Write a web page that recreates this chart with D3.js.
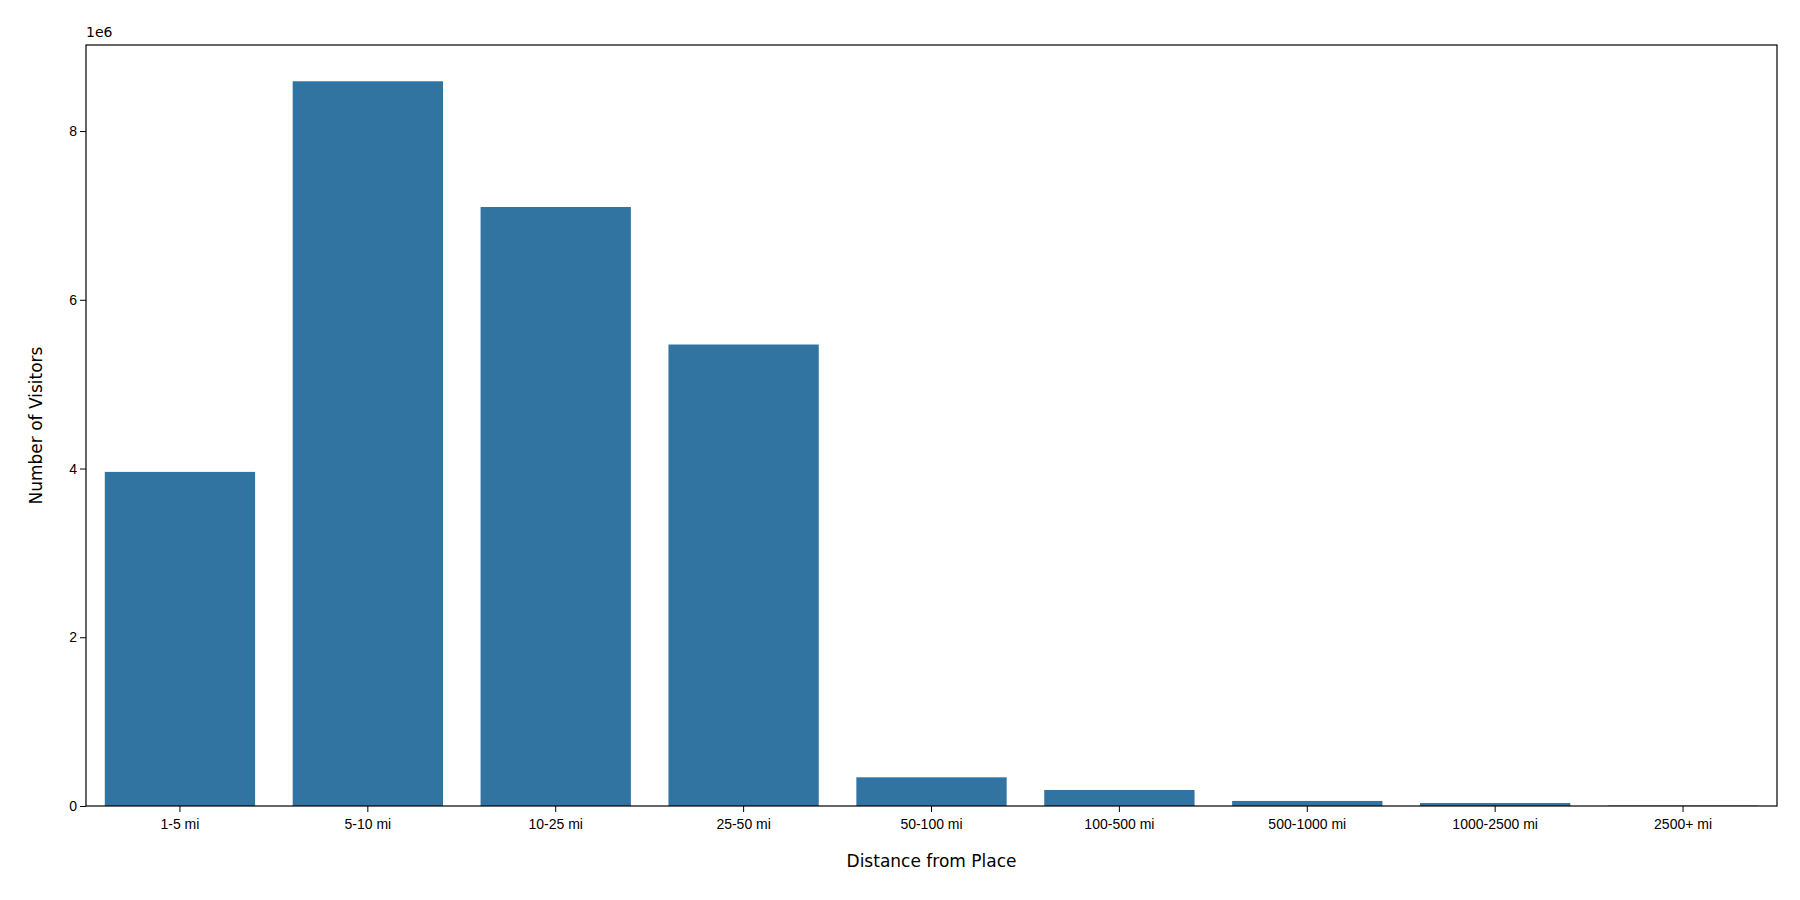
<!DOCTYPE html>
<meta charset="utf-8">
<style>
    body { margin: 0; background: white; }
    svg { font-family: "DejaVu Sans", sans-serif; }
    .axis path, .axis line { stroke: black; }
</style>
<body>
<script src="https://cdn.jsdelivr.net/npm/d3@7"></script>
<script>
    // data (visitors, millions)
    const categories = ['1-5 mi', '5-10 mi', '10-25 mi', '25-50 mi', '50-100 mi',
        '100-500 mi', '500-1000 mi', '1000-2500 mi', '2500+ mi'];
    const visitors = [3.96e6, 8.59e6, 7.10e6, 5.47e6, 0.34e6, 0.19e6, 0.06e6, 0.035e6, 0.005e6];
    const yTicks = [0, 2e6, 4e6, 6e6, 8e6];

    const margin = {top: 45, right: 23, bottom: 94, left: 86};
    const width = 1800 - margin.left - margin.right;
    const height = 900 - margin.top - margin.bottom;

    const svg = d3.select('body').append('svg')
        .attr('width', 1800)
        .attr('height', 900);

    const g = svg.append('g')
        .attr('transform', `translate(${margin.left},${margin.top})`);

    const x = d3.scaleBand()
        .domain(categories)
        .range([0, width])
        .paddingInner(0.2)
        .paddingOuter(0.1);

    const y = d3.scaleLinear()
        .domain([0, 9.02e6])
        .range([height, 0]);

    // bars
    g.selectAll('.bar')
        .data(categories)
        .enter().append('rect')
        .attr('class', 'bar')
        .attr('x', d => x(d))
        .attr('width', x.bandwidth())
        .attr('y', (d, i) => y(visitors[i]))
        .attr('height', (d, i) => height - y(visitors[i]))
        .style('fill', '#3274a1');

    // x axis
    g.append('g')
        .attr('class', 'axis')
        .attr('transform', `translate(0,${height})`)
        .call(d3.axisBottom(x).tickSize(6).tickSizeOuter(0))
        .call(a => a.select('.domain').remove())
        .selectAll('text').style('font-size', '14px').attr('dy', '1em');

    // y axis
    g.append('g')
        .attr('class', 'axis')
        .call(d3.axisLeft(y).tickValues(yTicks).tickFormat(d => d / 1e6).tickSize(6).tickSizeOuter(0))
        .call(a => a.select('.domain').remove())
        .selectAll('text').style('font-size', '14px');

    // frame
    g.append('rect')
        .attr('width', width)
        .attr('height', height)
        .style('fill', 'none')
        .style('stroke', 'black')
        .style('stroke-width', 1.2);

    // offset text
    g.append('text')
        .attr('x', 0)
        .attr('y', -8)
        .style('font-size', '14px')
        .text('1e6');

    // axis labels
    svg.append('text')
        .attr('x', margin.left + width / 2)
        .attr('y', 867)
        .attr('text-anchor', 'middle')
        .style('font-size', '17px')
        .text('Distance from Place');

    svg.append('text')
        .attr('transform', `translate(42,${margin.top + height / 2}) rotate(-90)`)
        .attr('text-anchor', 'middle')
        .style('font-size', '17px')
        .text('Number of Visitors');
</script>
</body>
</html>
